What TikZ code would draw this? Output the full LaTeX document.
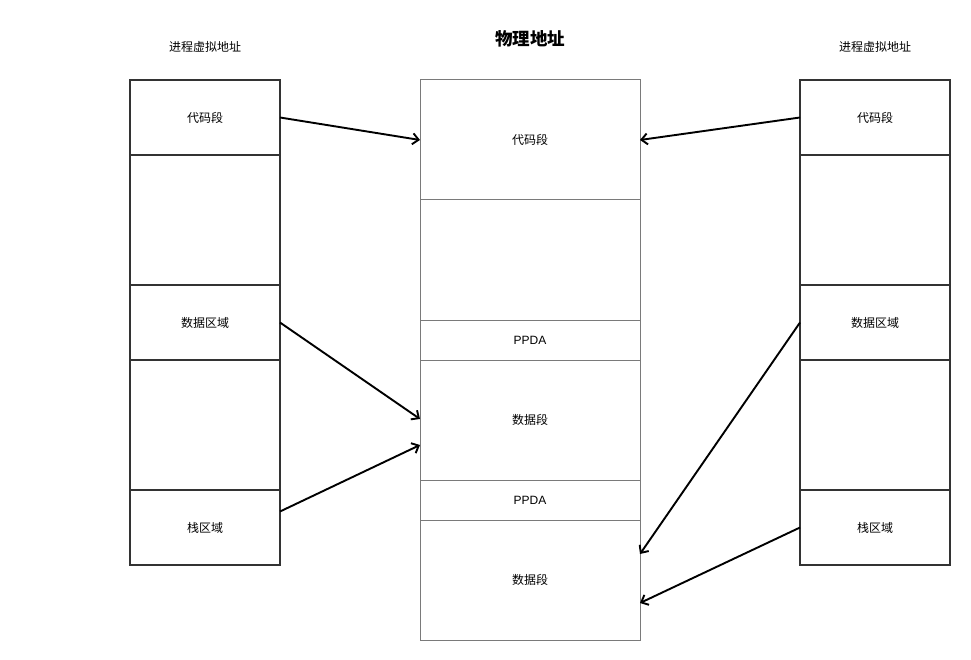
\documentclass[tikz,border=0pt]{standalone}
\usepackage{fontspec}
\setmainfont{Noto Sans CJK SC}
\newfontfamily\latinsans{Liberation Sans}
\usetikzlibrary{arrows.meta}
\definecolor{sideline}{HTML}{333333}
\definecolor{midline}{HTML}{7A7A7A}
\begin{document}
\begin{tikzpicture}[x=1pt,y=-1pt,
  sidebox/.style={draw=sideline, line width=2pt, minimum width=150pt, inner sep=0pt, outer sep=0pt, font=\fontsize{12}{14}\selectfont},
  midbox/.style={draw=midline, line width=1pt, minimum width=220pt, inner sep=0pt, outer sep=0pt, font=\fontsize{12}{14}\selectfont},
  caption/.style={font=\fontsize{12}{14}\selectfont},
  link/.style={draw=black, line width=1.9pt, -{Straight Barb[length=6pt,width=11pt,line width=1.9pt]}}]
\useasboundingbox (0,0) rectangle (971,660);
% title and column headings
\node[font=\fontsize{17.5}{20}\selectfont\bfseries] (title) at (530,39) {物理地址};
\node[caption] (lcap) at (205,47) {进程虚拟地址};
\node[caption] (rcap) at (875,47) {进程虚拟地址};
% physical memory column
\node[midbox, minimum height=120pt] (m1) at (530,140) {代码段};
\node[midbox, minimum height=120pt] (m2) at (530,260) {};
\node[midbox, minimum height=40pt, font=\fontsize{12}{14}\latinsans] (m3) at (530,340) {PPDA};
\node[midbox, minimum height=120pt] (m4) at (530,420) {数据段};
\node[midbox, minimum height=40pt, font=\fontsize{12}{14}\latinsans] (m5) at (530,500) {PPDA};
\node[midbox, minimum height=120pt] (m6) at (530,580) {数据段};
% left process address space
\node[sidebox, minimum height=75pt] (l1) at (205,117.5) {代码段};
\node[sidebox, minimum height=130pt] (l2) at (205,220) {};
\node[sidebox, minimum height=75pt] (l3) at (205,322.5) {数据区域};
\node[sidebox, minimum height=130pt] (l4) at (205,425) {};
\node[sidebox, minimum height=75pt] (l5) at (205,527.5) {栈区域};
% right process address space
\node[sidebox, minimum height=75pt] (r1) at (875,117.5) {代码段};
\node[sidebox, minimum height=130pt] (r2) at (875,220) {};
\node[sidebox, minimum height=75pt] (r3) at (875,322.5) {数据区域};
\node[sidebox, minimum height=130pt] (r4) at (875,425) {};
\node[sidebox, minimum height=75pt] (r5) at (875,527.5) {栈区域};
% mappings
\draw[link] (l1.east) -- (m1.west);
\draw[link] (r1.west) -- (m1.east);
\draw[link] (l3.east) -- ([yshift=1pt]m4.west);
\draw[link] ([yshift=16pt]l5.east) -- ([yshift=-25pt]m4.west);
\draw[link] (r3.west) -- ([yshift=26pt]m6.east);
\draw[link] (r5.west) -- ([yshift=-23pt]m6.east);
\end{tikzpicture}
\end{document}
